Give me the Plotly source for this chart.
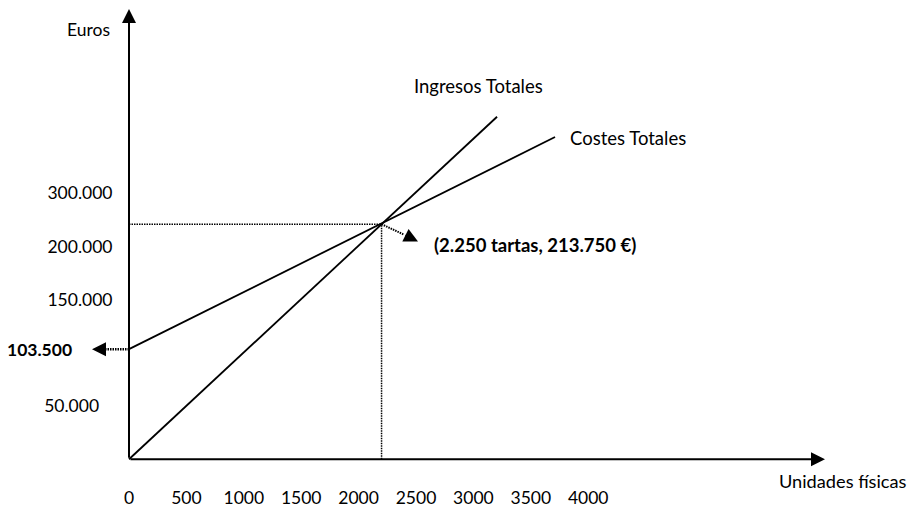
import plotly.graph_objects as go

# ---------------- data ----------------
x_tick_vals = [0, 500, 1000, 1500, 2000, 2500, 3000, 3500, 4000]
x_tick_text = ["0", "500", "1000", "1500", "2000", "2500", "3000", "3500", "4000"]
y_tick_vals = [50000, 150000, 200000, 250000]
y_tick_text = ["50.000\u00a0\u00a0\u00a0", "150.000", "200.000", "300.000"]

ingresos_units = [0, 3206]
ingresos_euros = [0, 322000]
costes_units = [0, 3711]
costes_euros = [103500, 303000]

breakeven_units = 2200
breakeven_euros = 221000
fixed_cost = 103500

label_ingresos = "Ingresos Totales"
label_costes = "Costes Totales"
label_breakeven = "(2.250 tartas, 213.750 €)"
label_fixed = "103.500"
label_x = "Unidades físicas"
label_y = "Euros"

# ---------------- layout geometry ----------------
W, H = 911, 508
OX, OY = 129, 462          # pixel position of the origin
PX_PER_UNIT = 0.1148
PX_PER_EURO = 0.00107


def ux(px):
    return (px - OX) / PX_PER_UNIT


def ey(py):
    return (OY - py) / PX_PER_EURO


FONT = "Lato"
FS = 17.5
FS_TEXT = 18.5
BLACK = "#000000"

fig = go.Figure()

line_style = dict(color=BLACK, width=1.8)
dot_style = dict(color=BLACK, width=1.5, dash="1.5px,1px")

fig.add_trace(go.Scatter(x=ingresos_units, y=ingresos_euros, mode="lines",
                         line=line_style, name=label_ingresos, hoverinfo="skip"))
fig.add_trace(go.Scatter(x=costes_units, y=costes_euros, mode="lines",
                         line=line_style, name=label_costes, hoverinfo="skip"))
# dotted guides to the break-even point
fig.add_trace(go.Scatter(x=[0, breakeven_units], y=[breakeven_euros, breakeven_euros],
                         mode="lines", line=dot_style, hoverinfo="skip"))
fig.add_trace(go.Scatter(x=[breakeven_units, breakeven_units], y=[0, breakeven_euros],
                         mode="lines", line=dot_style, hoverinfo="skip"))

# arrow shafts (dotted)
be_head_base = (ux(404), ey(236))
fig.add_trace(go.Scatter(x=[breakeven_units, be_head_base[0]],
                         y=[breakeven_euros, be_head_base[1]],
                         mode="lines", line=dict(color=BLACK, width=2, dash="1.5px,1px"),
                         hoverinfo="skip"))
fc_head_base = ux(106)
fig.add_trace(go.Scatter(x=[0, fc_head_base], y=[fixed_cost, fixed_cost],
                         mode="lines", line=dict(color=BLACK, width=2.5, dash="1.5px,1px"),
                         hoverinfo="skip"))

arrow_common = dict(xref="x", yref="y", axref="x", ayref="y", text="",
                    showarrow=True, arrowhead=2, arrowwidth=2, arrowcolor=BLACK,
                    standoff=0, startstandoff=0)

annotations = [
    # axes with arrow heads
    dict(x=ux(825), y=0, ax=0, ay=0, arrowsize=1.4, **arrow_common),
    dict(x=0, y=ey(9), ax=0, ay=0, arrowsize=1.4, **arrow_common),
    # arrow heads of the pointers
    dict(x=ux(418), y=ey(243), ax=be_head_base[0], ay=be_head_base[1],
         arrowsize=1.4, **arrow_common),
    dict(x=ux(92), y=fixed_cost, ax=fc_head_base, ay=fixed_cost,
         arrowsize=1.4, **arrow_common),
]


def text_style(size):
    return dict(xref="x", yref="y", showarrow=False,
                font=dict(family=FONT, size=size, color=BLACK))


annotations += [
    dict(x=ux(112), y=ey(30), text=label_y, xanchor="right", yanchor="middle",
         **text_style(FS)),
    dict(x=ux(412), y=ey(87), text=label_ingresos, xanchor="left", yanchor="middle",
         **text_style(FS_TEXT)),
    dict(x=ux(568), y=ey(139), text=label_costes, xanchor="left", yanchor="middle",
         **text_style(FS_TEXT)),
    dict(x=ux(432), y=ey(246), text="<b>" + label_breakeven + "</b>", xanchor="left",
         yanchor="middle", **text_style(FS_TEXT)),
    dict(x=ux(74), y=fixed_cost, text="<b>" + label_fixed + "</b>", xanchor="right",
         yanchor="middle", **text_style(FS)),
    dict(x=ux(909), y=ey(484), text=label_x, xanchor="right", yanchor="middle",
         **text_style(18.2)),
]

fig.update_layout(
    width=W, height=H, autosize=False,
    margin=dict(l=0, r=0, t=0, b=0, pad=0),
    paper_bgcolor="white", plot_bgcolor="white",
    showlegend=False,
    annotations=annotations,
    xaxis=dict(range=[ux(0), ux(W)], anchor="free", position=(H - OY) / H,
               tickmode="array", tickvals=x_tick_vals, ticktext=x_tick_text,
               ticks="outside", ticklen=23, tickcolor="rgba(0,0,0,0)",
               tickfont=dict(family=FONT, size=FS, color=BLACK),
               showline=False, showgrid=False, zeroline=False, fixedrange=True),
    yaxis=dict(range=[ey(H), ey(0)], anchor="free", position=OX / W,
               tickmode="array", tickvals=y_tick_vals, ticktext=y_tick_text,
               ticks="outside", ticklen=13, tickcolor="rgba(0,0,0,0)",
               tickfont=dict(family=FONT, size=FS, color=BLACK),
               showline=False, showgrid=False, zeroline=False, fixedrange=True),
)

fig.write_html("out.html", config={"displayModeBar": False},
               post_script="document.body.style.margin='0';"
                           "document.body.style.overflow='hidden';"
                           "document.documentElement.style.overflow='hidden';")
